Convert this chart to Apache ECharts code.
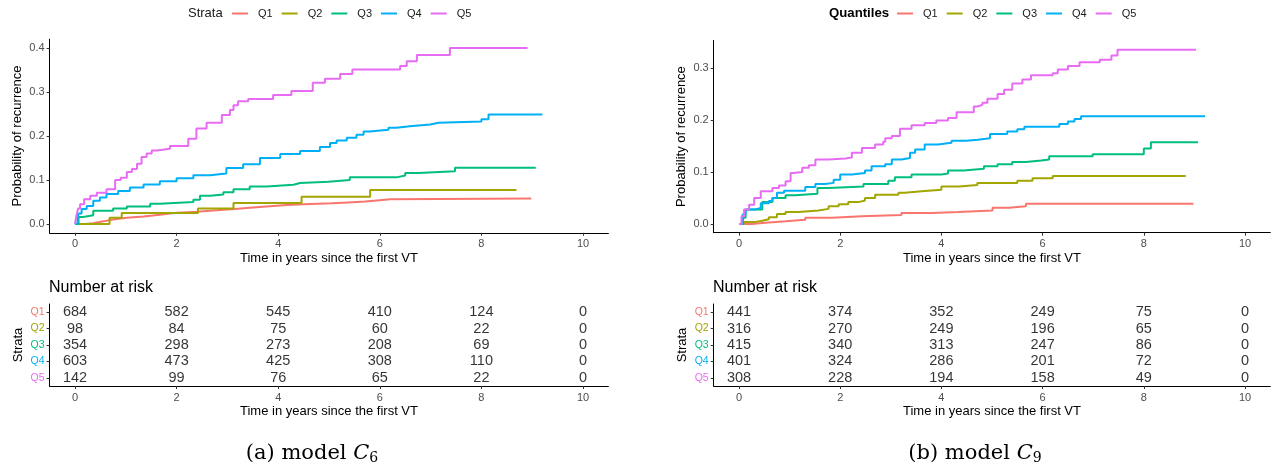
<!DOCTYPE html>
<html><head><meta charset="utf-8">
<script src="https://cdn.jsdelivr.net/npm/echarts@6/dist/echarts.min.js"></script>
<style>html,body{margin:0;padding:0;background:#fff}#c{width:1278px;height:469px}</style>
</head><body><div id="c"></div>
<script>
const strata = ['Q1','Q2','Q3','Q4','Q5'];
const xTickValues = [0,2,4,6,8,10];
const yTicksC6 = [0,0.1,0.2,0.3,0.4];
const yTicksC9 = [0,0.1,0.2,0.3];
const riskTimes = [0,2,4,6,8,10];

// model C6 cumulative incidence (step curves) [time, probability]
const c6_Q1 = [[0,0],[0.2,0.002],[0.36,0.006],[0.56,0.01],[0.75,0.014],[1.02,0.017],[1.35,0.021],[1.67,0.025],[1.94,0.028],[2.39,0.031],[2.79,0.034],[3.15,0.037],[3.44,0.04],[3.77,0.043],[4.17,0.045],[4.5,0.047],[5.05,0.049],[5.38,0.051],[5.71,0.054],[6.0,0.056],[6.2,0.058],[8.98,0.058]];
const c6_Q2 = [[0,0],[0.68,0.014],[0.92,0.025],[2.42,0.035],[3.12,0.048],[4.46,0.062],[5.81,0.077],[8.69,0.077]];
const c6_Q3 = [[0,0],[0.07,0.016],[0.16,0.02],[0.36,0.03],[0.75,0.035],[1.02,0.04],[1.48,0.046],[1.67,0.05],[2.33,0.055],[2.46,0.064],[2.66,0.067],[2.92,0.072],[3.12,0.079],[3.44,0.085],[3.77,0.089],[4.3,0.093],[4.43,0.096],[4.99,0.1],[5.41,0.106],[6.33,0.11],[6.5,0.116],[6.76,0.12],[7.48,0.128],[9.07,0.128]];
const c6_Q4 = [[0,0],[0.05,0.015],[0.07,0.024],[0.13,0.034],[0.23,0.041],[0.36,0.053],[0.49,0.06],[0.62,0.068],[0.85,0.075],[1.08,0.083],[1.35,0.09],[1.67,0.097],[2.0,0.104],[2.33,0.111],[2.66,0.115],[2.98,0.127],[3.31,0.136],[3.64,0.15],[4.04,0.159],[4.43,0.166],[4.82,0.175],[5.02,0.184],[5.15,0.19],[5.35,0.196],[5.54,0.203],[5.68,0.21],[5.8,0.214],[6.17,0.219],[6.33,0.222],[6.59,0.226],[6.99,0.23],[7.16,0.233],[8.0,0.238],[8.14,0.249],[9.2,0.249]];
const c6_Q5 = [[0,0],[0.03,0.02],[0.06,0.035],[0.1,0.045],[0.18,0.056],[0.3,0.064],[0.43,0.071],[0.62,0.079],[0.79,0.1],[0.9,0.105],[1.02,0.118],[1.12,0.125],[1.22,0.137],[1.31,0.152],[1.41,0.16],[1.51,0.167],[1.61,0.171],[1.87,0.177],[2.23,0.194],[2.39,0.217],[2.59,0.23],[2.89,0.248],[3.05,0.259],[3.12,0.27],[3.21,0.279],[3.41,0.284],[3.9,0.293],[4.26,0.302],[4.68,0.321],[4.92,0.33],[5.22,0.341],[5.46,0.351],[6.4,0.359],[6.53,0.37],[6.73,0.384],[7.38,0.4],[8.91,0.4]];

// model C9
const c9_Q1 = [[0,0],[0.26,0.002],[0.46,0.005],[0.92,0.008],[1.31,0.012],[1.84,0.015],[2.43,0.017],[3.21,0.021],[3.8,0.023],[4.33,0.026],[5.01,0.031],[5.34,0.034],[5.67,0.039],[8.98,0.039]];
const c9_Q2 = [[0,0],[0.1,0.004],[0.33,0.006],[0.46,0.009],[0.59,0.013],[0.75,0.019],[0.92,0.023],[1.18,0.026],[1.57,0.029],[1.77,0.034],[1.97,0.038],[2.16,0.042],[2.36,0.045],[2.49,0.05],[2.69,0.056],[3.15,0.06],[3.28,0.063],[3.61,0.066],[4.0,0.072],[4.35,0.075],[4.71,0.079],[5.5,0.083],[5.8,0.088],[6.2,0.092],[8.83,0.092]];
const c9_Q3 = [[0,0],[0.08,0.012],[0.13,0.024],[0.16,0.028],[0.46,0.042],[0.66,0.05],[0.92,0.055],[1.11,0.058],[1.55,0.069],[1.77,0.072],[2.46,0.077],[2.95,0.083],[3.08,0.09],[3.41,0.095],[4.0,0.097],[4.13,0.103],[4.44,0.106],[4.84,0.111],[5.11,0.115],[5.4,0.119],[5.67,0.122],[5.97,0.124],[6.13,0.13],[6.99,0.134],[8.0,0.145],[8.14,0.157],[9.07,0.157]];
const c9_Q4 = [[0,0],[0.07,0.018],[0.13,0.028],[0.33,0.031],[0.43,0.04],[0.59,0.044],[0.66,0.05],[0.75,0.06],[0.89,0.064],[1.31,0.071],[1.51,0.077],[1.7,0.079],[1.87,0.085],[2.0,0.095],[2.23,0.098],[2.49,0.103],[2.62,0.111],[2.89,0.115],[3.02,0.124],[3.21,0.127],[3.38,0.137],[3.48,0.143],[3.67,0.153],[3.93,0.156],[4.2,0.16],[4.49,0.162],[4.72,0.165],[4.96,0.173],[5.3,0.178],[5.5,0.182],[5.64,0.187],[6.33,0.192],[6.5,0.197],[6.63,0.202],[6.76,0.207],[9.21,0.207]];
const c9_Q5 = [[0,0],[0.05,0.015],[0.1,0.028],[0.2,0.037],[0.3,0.05],[0.43,0.063],[0.66,0.069],[0.79,0.074],[0.92,0.082],[1.02,0.098],[1.08,0.1],[1.25,0.108],[1.38,0.113],[1.51,0.124],[1.77,0.126],[2.1,0.128],[2.23,0.137],[2.43,0.146],[2.69,0.153],[2.85,0.158],[2.89,0.165],[3.02,0.169],[3.18,0.183],[3.41,0.19],[3.67,0.194],[3.9,0.199],[4.13,0.204],[4.3,0.215],[4.64,0.226],[4.71,0.229],[4.81,0.233],[4.91,0.241],[5.11,0.25],[5.24,0.258],[5.4,0.27],[5.6,0.278],[5.77,0.286],[6.2,0.29],[6.3,0.297],[6.5,0.304],[6.73,0.311],[7.13,0.316],[7.36,0.324],[7.48,0.335],[9.03,0.335]];

// numbers at risk
const risk6_Q1 = [684,582,545,410,124,0];
const risk6_Q2 = [98,84,75,60,22,0];
const risk6_Q3 = [354,298,273,208,69,0];
const risk6_Q4 = [603,473,425,308,110,0];
const risk6_Q5 = [142,99,76,65,22,0];
const risk9_Q1 = [441,374,352,249,75,0];
const risk9_Q2 = [316,270,249,196,65,0];
const risk9_Q3 = [415,340,313,247,86,0];
const risk9_Q4 = [401,324,286,201,72,0];
const risk9_Q5 = [308,228,194,158,49,0];

const colors = ['#F8766D','#A3A500','#00BF7D','#00B0F6','#E76BF3'];
const FONT = "'Liberation Sans', Arial, sans-serif";
const SERIF = "'DejaVu Serif', serif";

const chart = echarts.init(document.getElementById('c'), null, {renderer:'canvas'});

function xAxisDef(grid, title) {
  return {
    type:'value', gridIndex:grid, min:-0.5, max:10.5,
    axisLine:{show:true, onZero:false, lineStyle:{color:'#000', width:1}},
    axisTick:{show:true, length:3, lineStyle:{color:'#333'}, customValues:xTickValues},
    axisLabel:{show:true, color:'#4d4d4d', fontSize:11, fontFamily:FONT, margin:6, customValues:xTickValues},
    splitLine:{show:false},
    name:title, nameLocation:'middle', nameGap:19,
    nameTextStyle:{color:'#000', fontSize:13, fontFamily:FONT}
  };
}
function yAxisPlot(grid, min, max, ticks) {
  return {
    type:'value', gridIndex:grid, min:min, max:max,
    axisLine:{show:true, onZero:false, lineStyle:{color:'#000', width:1}},
    axisTick:{show:true, length:3, lineStyle:{color:'#333'}, customValues:ticks},
    axisLabel:{show:true, color:'#4d4d4d', fontSize:11, fontFamily:FONT, margin:5,
      customValues:ticks, formatter:v=>v.toFixed(1)},
    splitLine:{show:false},
    name:'Probability of recurrence', nameLocation:'middle', nameGap:26,
    nameTextStyle:{color:'#000', fontSize:13, fontFamily:FONT}
  };
}
const rich = {};
strata.forEach((s,i)=>{ rich[s] = {color:colors[i], fontSize:10.5, fontFamily:FONT}; });
function yAxisTable(grid) {
  return {
    type:'category', gridIndex:grid, data:strata, inverse:true,
    axisLine:{show:true, onZero:false, lineStyle:{color:'#000', width:1}},
    axisTick:{show:true, length:3, alignWithLabel:true, lineStyle:{color:'#333'}},
    axisLabel:{show:true, margin:5, formatter:v=>'{'+v+'|'+v+'}', rich:rich},
    splitLine:{show:false},
    name:'Strata', nameLocation:'middle', nameGap:25,
    nameTextStyle:{color:'#000', fontSize:13, fontFamily:FONT}
  };
}

const curves6 = [c6_Q1,c6_Q2,c6_Q3,c6_Q4,c6_Q5];
const curves9 = [c9_Q1,c9_Q2,c9_Q3,c9_Q4,c9_Q5];
const risks6 = [risk6_Q1,risk6_Q2,risk6_Q3,risk6_Q4,risk6_Q5];
const risks9 = [risk9_Q1,risk9_Q2,risk9_Q3,risk9_Q4,risk9_Q5];

const series = [];
function addCurves(curves, xi) {
  curves.forEach((d,i)=>{
    series.push({type:'line', name:strata[i], xAxisIndex:xi, yAxisIndex:xi, data:d,
      step:'end', showSymbol:false, symbol:'none', silent:true,
      lineStyle:{color:colors[i], width:2}, itemStyle:{color:colors[i]}, z:2+i});
  });
}
function addRisk(risks, xi) {
  risks.forEach((vals,i)=>{
    series.push({type:'scatter', name:'risk'+xi+'_'+i, xAxisIndex:xi, yAxisIndex:xi,
      data:riskTimes.map((t,k)=>[t, strata[i], vals[k]]),
      symbolSize:1, itemStyle:{color:'rgba(0,0,0,0)'}, silent:true,
      label:{show:true, position:'inside', formatter:p=>String(p.value[2]),
        color:'#000', fontSize:14.5, fontFamily:FONT}});
  });
}
addCurves(curves6, 0);
addRisk(risks6, 1);
addCurves(curves9, 2);
addRisk(risks9, 3);

const legendCommon = {
  data:strata, orient:'horizontal', top:8, padding:0, icon:'rect', itemWidth:16, itemHeight:2,
  itemGap:9, textStyle:{fontSize:11, color:'#1a1a1a', fontFamily:FONT, padding:[0,0,0,5]},
  selectedMode:false
};

function caption(x, label, sub) {
  return {type:'text', x:x, y:454, style:{
    text:'{n|'+label+'}{i|C}{s|'+sub+'}', align:'center', verticalAlign:'middle',
    rich:{n:{fontSize:21, fontFamily:SERIF, fill:'#000'},
          i:{fontSize:21, fontFamily:SERIF, fontStyle:'italic', fill:'#000'},
          s:{fontSize:14, fontFamily:SERIF, fill:'#000', verticalAlign:'bottom', padding:[9,0,0,0]}}}};
}

const option = {
  backgroundColor:'#fff',
  animation:false,
  legend:[Object.assign({left:232}, legendCommon), Object.assign({left:897}, legendCommon)],
  grid:[
    {left:49.6, top:39.2, width:558.8, height:193.6},
    {left:49.6, top:304, width:558.8, height:82},
    {left:713.7, top:40.5, width:556.6, height:192.2},
    {left:713.7, top:304, width:556.6, height:82}
  ],
  xAxis:[
    xAxisDef(0,'Time in years since the first VT'),
    xAxisDef(1,'Time in years since the first VT'),
    xAxisDef(2,'Time in years since the first VT'),
    xAxisDef(3,'Time in years since the first VT')
  ],
  yAxis:[
    yAxisPlot(0,-0.02,0.42,yTicksC6),
    yAxisTable(1),
    yAxisPlot(2,-0.0168,0.3528,yTicksC9),
    yAxisTable(3)
  ],
  graphic:[
    {type:'text', x:188, y:13, style:{text:'Strata', fontSize:13, fill:'#1a1a1a', fontFamily:FONT, verticalAlign:'middle'}},
    {type:'text', x:829, y:13, style:{text:'Quantiles', fontSize:13.2, fontWeight:'bold', fill:'#000', fontFamily:FONT, verticalAlign:'middle'}},
    {type:'text', x:49, y:288, style:{text:'Number at risk', fontSize:16, fill:'#000', fontFamily:FONT, verticalAlign:'middle'}},
    {type:'text', x:713, y:288, style:{text:'Number at risk', fontSize:16, fill:'#000', fontFamily:FONT, verticalAlign:'middle'}},
    caption(312, '(a) model ', '6'),
    caption(975, '(b) model ', '9')
  ],
  series:series
};
chart.setOption(option);
</script>
</body></html>
